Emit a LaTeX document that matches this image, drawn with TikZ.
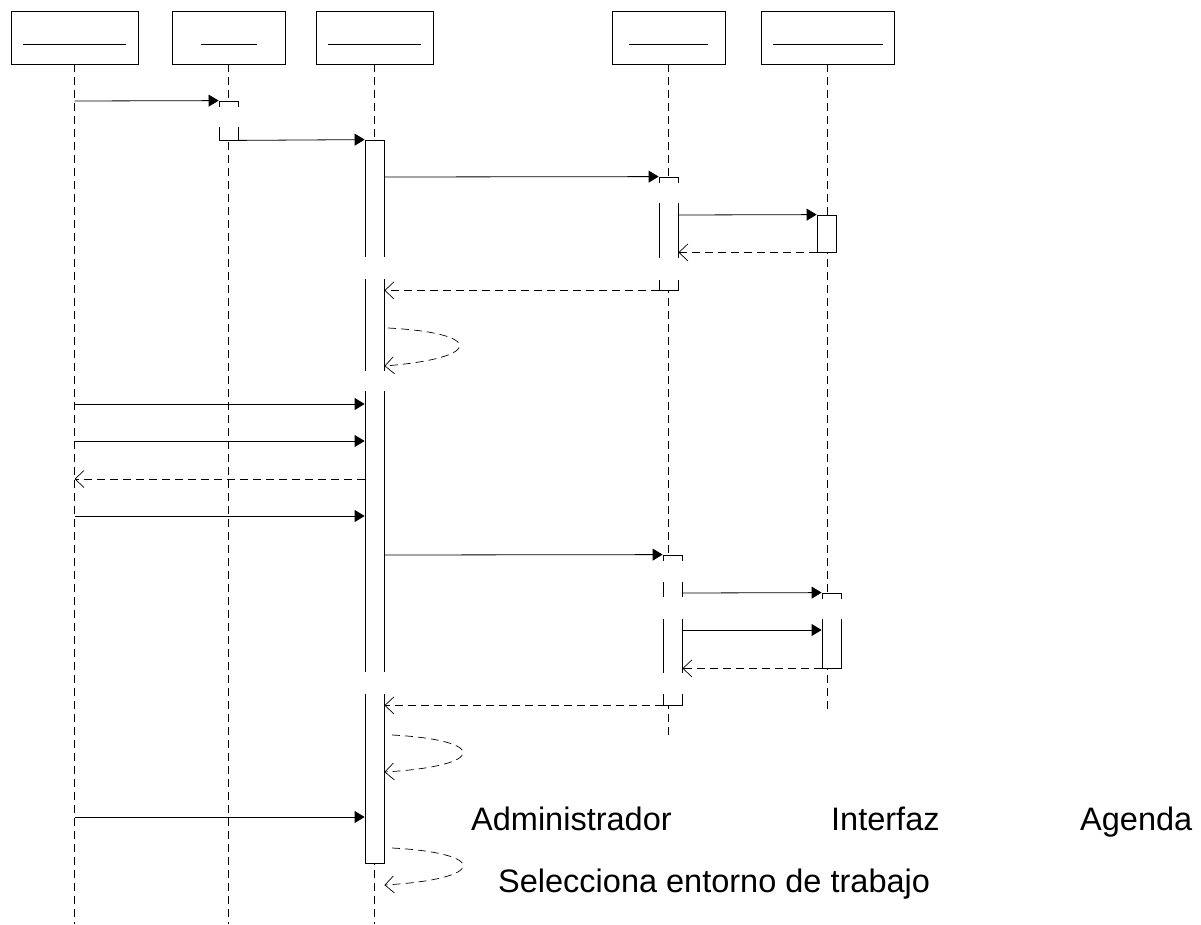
\documentclass[tikz,border=0pt]{standalone}
\usepackage{fontspec}
\setmainfont{Liberation Sans}
\usepackage{tikz}
\usetikzlibrary{arrows.meta,positioning}

\tikzset{
  objbox/.style={draw, fill=white, inner sep=0pt, minimum height=53pt, line width=0.8pt},
  lifeline/.style={dash pattern=on 8pt off 5pt, line width=0.7pt},
  actbox/.style={draw, fill=white, inner sep=0pt, minimum width=19pt, line width=0.8pt},
  call/.style={-{Triangle[length=10pt,width=12pt]}, line width=0.8pt},
  reply/.style={-{Straight Barb[length=9pt,width=17pt]}, dash pattern=on 8pt off 5pt, line width=0.7pt},
  mask/.style={fill=white, draw=none},
  lbl/.style={font=\fontsize{32.5}{39}\selectfont, inner sep=0pt, anchor=base west}
}

\begin{document}
\begin{tikzpicture}[x=1pt, y=-1pt]
    \useasboundingbox (0,0) rectangle (1201,924);

    % Object heads
    \node[objbox, minimum width=127pt] (obj1) at (74.5,37.5) {};
    \node[objbox, minimum width=113pt] (obj2) at (228.5,37.5) {};
    \node[objbox, minimum width=117pt] (obj3) at (374.5,37.5) {};
    \node[objbox, minimum width=113pt] (obj4) at (668.5,37.5) {};
    \node[objbox, minimum width=133pt] (obj5) at (827.5,37.5) {};
    \draw[line width=0.8pt] (obj1.center) ++(-51.5,6.5) -- ++(103,0);
    \draw[line width=0.8pt] (obj2.center) ++(-28,6.5) -- ++(56,0);
    \draw[line width=0.8pt] (obj3.center) ++(-46.5,6.5) -- ++(93,0);
    \draw[line width=0.8pt] (obj4.center) ++(-39.5,6.5) -- ++(79,0);
    \draw[line width=0.8pt] (obj5.center) ++(-55,6.5) -- ++(110,0);

    % Lifelines
    \draw[lifeline] (obj1.south) -- (obj1.south |- 0,924);
    \draw[lifeline] (obj2.south) -- (obj2.south |- 0,924);
    \draw[lifeline] (obj3.south) -- (obj3.south |- 0,924);
    \draw[lifeline] (obj4.south) -- (obj4.south |- 0,740);
    \draw[lifeline] (obj5.south) -- (obj5.south |- 0,710);

    % Activations
    \node[actbox, minimum height=39pt] (act2) at (228.5,120.5) {};
    \node[actbox, minimum height=723pt] (actA) at (374.5,501.5) {};
    \node[actbox, minimum height=113pt] (actB) at (668.5,233.5) {};
    \node[actbox, minimum height=37pt] (actD) at (826.5,233.5) {};
    \node[actbox, minimum height=150pt] (actC) at (672.5,630) {};
    \node[actbox, minimum height=75pt] (actE) at (831.5,630.5) {};

    % first exchange
    \draw[call] (obj1 |- 0,101) -- (act2.north west);
    \draw[call] (act2.south east) -- (actA.north west);
    \draw[call] (actA.east |- 0,177) -- (actB.north west);
    \draw[call] (actB.east |- 0,215) -- (actD.north west);
    \draw[reply] (actD.south west) -- (actB.east |- actD.south);
    \draw[reply] (actB.south west) -- (actA.east |- actB.south);

    % self call
    \coordinate (s7) at (388,328);
    \draw[reply] (s7) .. controls (484,333) and (484,358) .. (actA.east |- 0,366);

    % actor to administrador
    \draw[call] (obj1 |- 0,404) -- (actA.west |- 0,404);
    \draw[call] (obj1 |- 0,441) -- (actA.west |- 0,441);
    \draw[reply] (actA.west |- 0,479) -- (obj1 |- 0,479);
    \draw[call] (obj1 |- 0,516) -- (actA.west |- 0,516);

    % second exchange
    \draw[call] (actA.east |- 0,555) -- (actC.north west);
    \draw[call] (actC.east |- 0,593) -- (actE.north west);
    \draw[call] (actC.east |- 0,630) -- (actE.west |- 0,630);
    \draw[reply] (actE.south west) -- (actC.east |- actE.south);
    \draw[reply] (actC.south west) -- (actA.east |- actC.south);

    \coordinate (s17) at (392,735);
    \draw[reply] (s17) .. controls (488,740) and (488,766) .. (actA.east |- 0,772);

    \draw[call] (obj1 |- 0,817) -- (actA.west |- 0,817);

    \coordinate (s19) at (392,848);
    \draw[reply] (s19) .. controls (488,853) and (488,879) .. (actA.east |- 0,885);

    % blank label gaps
    \fill[mask] (216,107) rectangle (241,127);
    \fill[mask] (362,257) rectangle (387,279);
    \fill[mask] (362,371) rectangle (387,391);
    \fill[mask] (362,672) rectangle (387,694);
    \fill[mask] (656,183) rectangle (681,203);
    \fill[mask] (656,258) rectangle (681,280);
    \fill[mask] (660,561) rectangle (685,582);
    \fill[mask] (660,597) rectangle (685,619);
    \fill[mask] (660,673) rectangle (685,694);
    \fill[mask] (819,599) rectangle (844,619);

    % Labels
    \node[lbl] (admin) at (471,830) {Administrador};
    \node[lbl] (iface) at (831,830) {Interfaz};
    \node[lbl] (agenda) at (1080,830) {Agenda};
    \node[lbl] (selec) at (498,892) {Selecciona entorno de trabajo};
\end{tikzpicture}
\end{document}
